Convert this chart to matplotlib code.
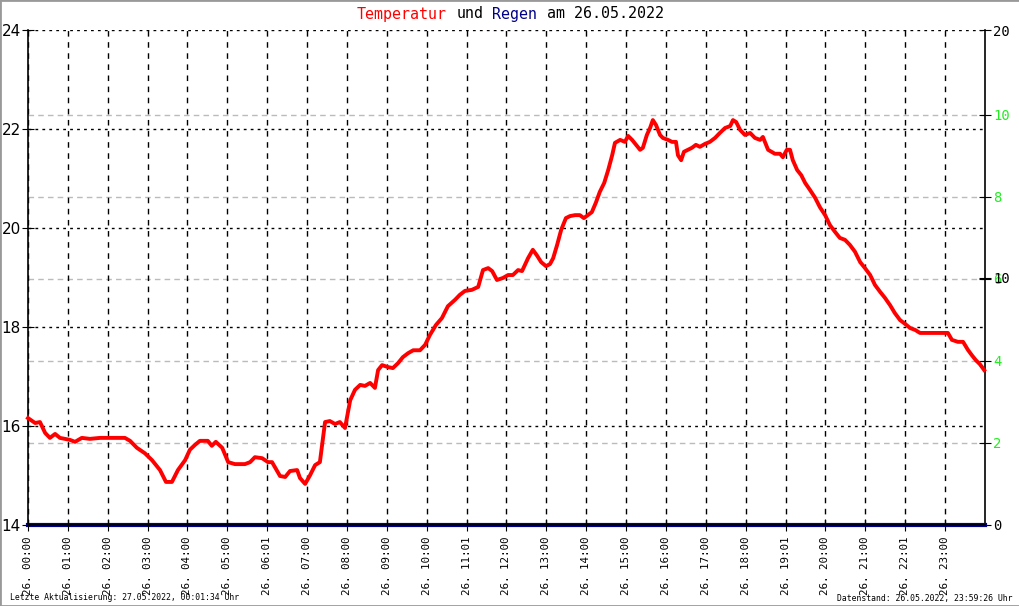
import matplotlib
matplotlib.use("Agg")
import matplotlib.pyplot as plt
from matplotlib.patches import Rectangle

# Messwerte 26.05.2022 (Stunden, Temperatur in Grad C)
stunden = [0.00, 0.18, 0.30, 0.43, 0.55, 0.68, 0.80, 1.05, 1.18, 1.35, 1.55, 1.81,
           2.18, 2.43, 2.56, 2.73, 2.93, 3.11, 3.31, 3.46, 3.61, 3.76, 3.94, 4.06,
           4.19, 4.31, 4.51, 4.61, 4.71, 4.87, 5.02, 5.19, 5.44, 5.57, 5.69, 5.87,
           6.02, 6.12, 6.32, 6.45, 6.57, 6.75, 6.82, 6.95, 7.07, 7.20, 7.32, 7.45,
           7.57, 7.70, 7.82, 7.95, 8.08, 8.20, 8.33, 8.45, 8.58, 8.70, 8.78, 8.88,
           9.03, 9.15, 9.28, 9.40, 9.53, 9.66, 9.83, 9.96, 10.08, 10.23, 10.38, 10.53,
           10.71, 10.83, 10.96, 11.13, 11.29, 11.41, 11.54, 11.64, 11.76, 11.91, 12.04, 12.16,
           12.29, 12.39, 12.54, 12.66, 12.76, 12.87, 12.99, 13.09, 13.17, 13.27, 13.37, 13.49,
           13.59, 13.72, 13.84, 13.94, 14.04, 14.14, 14.24, 14.34, 14.45, 14.55, 14.65, 14.72,
           14.85, 14.97, 15.05, 15.15, 15.25, 15.35, 15.42, 15.52, 15.60, 15.67, 15.75, 15.85,
           15.92, 16.05, 16.15, 16.25, 16.30, 16.38, 16.45, 16.55, 16.65, 16.75, 16.85, 16.98,
           17.10, 17.23, 17.35, 17.48, 17.61, 17.68, 17.76, 17.86, 17.98, 18.11, 18.23, 18.36,
           18.43, 18.56, 18.73, 18.86, 18.93, 19.03, 19.11, 19.18, 19.29, 19.39, 19.49, 19.61,
           19.74, 19.86, 19.99, 20.11, 20.24, 20.36, 20.49, 20.61, 20.74, 20.87, 20.99, 21.12,
           21.24, 21.37, 21.49, 21.62, 21.74, 21.87, 22.00, 22.12, 22.25, 22.37, 22.50, 22.75,
           23.07, 23.17, 23.32, 23.45, 23.57, 23.67, 23.77, 23.87, 23.98]
temperatur = [16.16, 16.06, 16.08, 15.86, 15.76, 15.84, 15.76, 15.72, 15.68, 15.76, 15.74, 15.76,
              15.76, 15.76, 15.70, 15.56, 15.45, 15.31, 15.11, 14.87, 14.87, 15.11, 15.31, 15.52,
              15.62, 15.70, 15.70, 15.60, 15.68, 15.56, 15.27, 15.23, 15.23, 15.27, 15.37, 15.35,
              15.27, 15.27, 14.99, 14.97, 15.09, 15.11, 14.95, 14.83, 15.00, 15.21, 15.27, 16.08,
              16.10, 16.04, 16.08, 15.96, 16.52, 16.73, 16.83, 16.81, 16.87, 16.77, 17.13, 17.23,
              17.19, 17.17, 17.27, 17.39, 17.47, 17.53, 17.53, 17.64, 17.84, 18.04, 18.18, 18.42,
              18.55, 18.65, 18.73, 18.75, 18.81, 19.15, 19.19, 19.13, 18.95, 18.99, 19.05, 19.05,
              19.15, 19.13, 19.39, 19.56, 19.45, 19.31, 19.23, 19.27, 19.39, 19.66, 19.96, 20.20,
              20.24, 20.26, 20.26, 20.20, 20.26, 20.32, 20.51, 20.73, 20.91, 21.17, 21.47, 21.72,
              21.78, 21.74, 21.86, 21.78, 21.68, 21.58, 21.62, 21.88, 22.02, 22.18, 22.08, 21.88,
              21.82, 21.78, 21.74, 21.74, 21.47, 21.37, 21.54, 21.58, 21.62, 21.68, 21.64, 21.70,
              21.74, 21.82, 21.92, 22.02, 22.06, 22.18, 22.14, 21.98, 21.88, 21.92, 21.82, 21.78,
              21.84, 21.58, 21.50, 21.50, 21.43, 21.58, 21.58, 21.37, 21.17, 21.07, 20.91, 20.77,
              20.61, 20.42, 20.26, 20.06, 19.92, 19.80, 19.76, 19.66, 19.52, 19.31, 19.19, 19.05,
              18.85, 18.71, 18.59, 18.44, 18.28, 18.14, 18.06, 17.98, 17.94, 17.88, 17.88, 17.88,
              17.88, 17.74, 17.70, 17.70, 17.54, 17.43, 17.33, 17.25, 17.13]

regen_zeit = [0, 24]
regen = [0, 0]

tick_stunden = list(range(24))
tick_labels = ["26. 00:00", "26. 01:00", "26. 02:00", "26. 03:00", "26. 04:00", "26. 05:00",
               "26. 06:01", "26. 07:00", "26. 08:00", "26. 09:00", "26. 10:00", "26. 11:01",
               "26. 12:00", "26. 13:00", "26. 14:00", "26. 15:00", "26. 16:00", "26. 17:00",
               "26. 18:00", "26. 19:01", "26. 20:00", "26. 21:00", "26. 22:01", "26. 23:00"]

titel_teile = ["Temperatur", "und", "Regen", "am 26.05.2022"]
titel_farben = ["red", "black", "#000088", "black"]

mono = "DejaVu Sans Mono"
W, H = 1020, 606
fig = plt.figure(figsize=(W / 100, H / 100), dpi=100)
ax = fig.add_axes([28 / W, (H - 525) / H, (985 - 28) / W, (525 - 30) / H])

# Regen-Skalen (rechts)
ax3 = ax.twinx()
ax3.set_ylim(0, 12.07)
ax3.set_yticks([2, 4, 6, 8, 10])
ax3.tick_params(axis="y", colors="black", labelcolor="#22ee22", direction="inout", length=8,
                labelsize=10, pad=2)
for lab in ax3.get_yticklabels():
    lab.set_fontfamily(mono)
ax3.grid(axis="y", color="#bbbbbb", linestyle=(0, (4, 3)), linewidth=1)
for s in ax3.spines.values():
    s.set_visible(False)

ax2 = ax.twinx()
ax2.set_ylim(0, 20)
ax2.set_yticks([0, 10, 20])
ax2.tick_params(axis="y", direction="inout", length=8, labelsize=10, pad=2)
for lab in ax2.get_yticklabels():
    lab.set_fontfamily(mono)
for s in ["top", "left", "bottom"]:
    ax2.spines[s].set_visible(False)
ax2.spines["right"].set_linewidth(1.2)

ax.set_zorder(ax3.get_zorder() + 2)
ax.patch.set_visible(False)

ax.set_xlim(0, 24)
ax.set_ylim(14, 24)
ax.set_yticks([14, 16, 18, 20, 22, 24])
ax.set_xticks(tick_stunden)
ax.set_xticklabels(tick_labels, rotation=90, fontsize=7.8, family=mono)
ax.tick_params(axis="x", direction="inout", length=8, pad=4)
ax.tick_params(axis="y", direction="inout", length=8, labelsize=11, pad=1)
ax.grid(axis="x", color="black", linestyle=(0, (4, 4)), linewidth=1)
ax.grid(axis="y", color="black", linestyle=(0, (2, 3)), linewidth=1)
ax.spines["top"].set_visible(False)
ax.spines["right"].set_visible(False)
ax.spines["left"].set_linewidth(1.2)
ax.spines["bottom"].set_linewidth(1.2)

ax.plot(stunden, temperatur, color="red", linewidth=2.8, clip_on=False, zorder=5)
ax2.plot(regen_zeit, regen, color="#000088", linewidth=3, clip_on=False, zorder=6)

# Titel in Farbe, Stueck fuer Stueck (Monospace-Schrift)
fs_titel = 10.8
zeichen_px = 0.602 * fs_titel * 100 / 72
x_px = 357
for teil, farbe in zip(titel_teile, titel_farben):
    fig.text(x_px / W, 1 - 14 / H, teil, color=farbe, family=mono, fontsize=fs_titel, va="center")
    x_px += (len(teil) + 1) * zeichen_px

fig.text(10 / W, 1 - 598 / H, "Letzte Aktualisierung: 27.05.2022, 00:01:34 Uhr", family=mono,
         fontsize=5.9, va="center")
fig.text(1013 / W, 1 - 598 / H, "Datenstand: 26.05.2022, 23:59:26 Uhr", family=mono,
         fontsize=5.9, va="center", ha="right")

fig.patches.append(Rectangle((0, 0), 1, 1, transform=fig.transFigure, fill=False,
                             edgecolor="#999999", linewidth=2))

fig.savefig("out.png", dpi=100)
